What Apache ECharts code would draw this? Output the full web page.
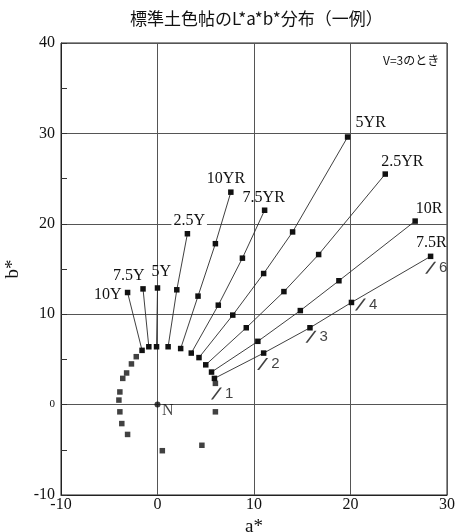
<!DOCTYPE html>
<html>
<head>
<meta charset="utf-8">
<script src="https://cdn.jsdelivr.net/npm/echarts@6/dist/echarts.min.js"></script>
<style>
  html, body { margin: 0; padding: 0; background: #fff; }
  #chart { width: 455px; height: 532px; }
</style>
</head>
<body>
<div id="chart"></div>
<script>
// Munsell hues at value 3; each one is a line of increasing chroma
const hueNames = ['10Y', '7.5Y', '5Y', '2.5Y', '10YR', '7.5YR', '5YR', '2.5YR', '10R', '7.5R'];

// a* for each chroma step of each hue
const hueA = [
  [-1.6, -3.1],
  [-0.9, -1.5],
  [-0.1, 0.0],
  [1.1, 2.0, 3.1],
  [2.4, 4.2, 6.0, 7.6],
  [3.5, 6.3, 8.8, 11.1],
  [4.3, 7.8, 11.0, 14.0, 19.7],
  [5.0, 9.2, 13.1, 16.7, 23.6],
  [5.6, 10.4, 14.8, 18.8, 26.7],
  [5.9, 11.0, 15.8, 20.1, 28.3]
];

// b* for each chroma step of each hue
const hueB = [
  [6.0, 12.4],
  [6.4, 12.8],
  [6.4, 12.9],
  [6.4, 12.7, 18.9],
  [6.2, 12.0, 17.8, 23.5],
  [5.7, 11.0, 16.2, 21.5],
  [5.2, 9.9, 14.5, 19.1, 29.6],
  [4.4, 8.5, 12.5, 16.6, 25.5],
  [3.6, 7.0, 10.4, 13.7, 20.3],
  [2.9, 5.7, 8.5, 11.3, 16.4]
];

// chroma of each step on the 7.5R line
const chromaSteps = [1, 2, 3, 4, 6];

// chroma 1 of the remaining hues
const otherA = [-2.2, -2.7, -3.2, -3.6, -3.9, -4.0, -3.9, -3.7, -3.1, 0.5, 4.6, 6.0, 6.0];
const otherB = [5.3, 4.5, 3.5, 2.9, 1.4, 0.5, -0.8, -2.1, -3.3, -5.1, -4.5, -0.8, 2.35];

// neutral grey
const neutralA = [0];
const neutralB = [0];

// axis ticks
const xTicks = [-10, 0, 10, 20, 30];
const yTicks = [-10, 0, 10, 20, 30, 40];

// ---- styling ----
const SERIF = "'Liberation Serif', 'Times New Roman', serif";
const SANS = "'Liberation Sans', Arial, sans-serif";
const CJK = "'Noto Sans CJK JP', 'Noto Sans CJK SC', sans-serif";
const INK = '#111';
const S = 5.5;

// hue label placement: [dx of anchor, dy of text middle, align, white backing]
const hueLabelPlace = [
  [-6, 2, 'right', false],
  [-30, -13.3, 'left', false],
  [-6, -16, 'left', false],
  [-16, -12.6, 'left', true],
  [-24, -13, 'left', false],
  [-22, -12.4, 'left', false],
  [8, -14.3, 'left', false],
  [-4, -12.3, 'left', false],
  [0.5, -12, 'left', false],
  [-14.5, -13.4, 'left', false]
];

// slash mark offsets below each chroma step of 7.5R
const chromaMarkOffset = [[2, 15], [-1, 11], [1, 9], [9, 2], [0, 11.5]];

const series = [];

hueNames.forEach((name, h) => {
  const place = hueLabelPlace[h];
  const last = hueA[h].length - 1;
  const data = hueA[h].map((a, i) => {
    const item = { value: [a, hueB[h][i]] };
    if (i === last) {
      item.label = {
        show: true,
        formatter: name,
        position: [S / 2 + place[0], S / 2 + place[1]],
        align: place[2],
        verticalAlign: 'middle',
        fontFamily: SERIF,
        fontSize: 16,
        color: INK,
        backgroundColor: place[3] ? '#fff' : 'transparent',
        padding: place[3] ? [0, 2] : 0
      };
    }
    return item;
  });
  series.push({
    type: 'line',
    name: name,
    data: data,
    symbol: 'rect',
    symbolSize: S,
    showAllSymbol: true,
    itemStyle: { color: INK },
    lineStyle: { color: '#2a2a2a', width: 0.9 },
    label: { show: false },
    emphasis: { disabled: true },
    z: 3
  });
});

series.push({
  type: 'scatter',
  name: 'others',
  data: otherA.map((a, i) => [a, otherB[i]]),
  symbol: 'rect',
  symbolSize: S,
  itemStyle: { color: INK },
  z: 3
});

series.push({
  type: 'scatter',
  name: 'N',
  data: neutralA.map((a, i) => [a, neutralB[i]]),
  symbol: 'circle',
  symbolSize: 6,
  itemStyle: { color: INK },
  label: {
    show: true,
    formatter: 'N',
    position: [3 + 4.5, 3 + 6.5],
    align: 'left',
    verticalAlign: 'middle',
    fontFamily: SERIF,
    fontSize: 16,
    color: INK
  },
  z: 4
});

series.push({
  type: 'scatter',
  name: 'chroma',
  data: chromaSteps.map((c, i) => ({
    value: [hueA[9][i], hueB[9][i]],
    symbolOffset: chromaMarkOffset[i],
    label: { formatter: String(c) }
  })),
  symbol: 'path://M0,12L2,12L11,0L9,0Z',
  symbolSize: [11, 12],
  itemStyle: { color: INK },
  label: {
    show: true,
    position: 'right',
    distance: 3,
    fontFamily: SANS,
    fontSize: 15,
    color: INK
  },
  z: 4
});

const chart = echarts.init(document.getElementById('chart'), null, { renderer: 'canvas' });
chart.setOption({
  animation: false,
  backgroundColor: '#fff',
  title: [
    {
      text: '標準土色帖のL*a*b*分布（一例）',
      left: 130,
      top: 10,
      padding: 0,
      textStyle: { fontFamily: CJK, fontSize: 17, fontWeight: 'normal', color: INK }
    },
    {
      text: 'V=3のとき',
      left: 383,
      top: 54,
      padding: 0,
      textStyle: { fontFamily: CJK, fontSize: 12, fontWeight: 'normal', color: INK }
    }
  ],
  grid: {
    left: 61, right: 8, top: 43, bottom: 37,
    show: true,
    borderColor: '#222',
    borderWidth: 1,
    outerBoundsMode: 'none',
    containLabel: false
  },
  xAxis: {
    type: 'value',
    min: xTicks[0],
    max: xTicks[xTicks.length - 1],
    interval: xTicks[1] - xTicks[0],
    name: 'a*',
    nameLocation: 'middle',
    nameGap: 20,
    nameTextStyle: { fontFamily: SERIF, fontSize: 19, color: INK },
    axisLine: { show: true, onZero: false, lineStyle: { color: '#222', width: 1 } },
    axisTick: { show: false },
    axisLabel: { fontFamily: SERIF, fontSize: 16, color: INK, margin: 2, showMinLabel: true, showMaxLabel: true },
    splitLine: { show: true, lineStyle: { color: '#555', width: 1 } }
  },
  yAxis: {
    type: 'value',
    min: yTicks[0],
    max: yTicks[yTicks.length - 1],
    interval: yTicks[1] - yTicks[0],
    name: 'b*',
    nameLocation: 'middle',
    nameRotate: 90,
    nameGap: 26,
    nameTextStyle: { fontFamily: SERIF, fontSize: 19, color: INK },
    axisLine: { show: true, onZero: false, lineStyle: { color: '#222', width: 1 } },
    axisTick: { show: true, inside: true, length: 6, lineStyle: { color: '#333' } },
    minorTick: { show: true, splitNumber: 2, length: 6, lineStyle: { color: '#333', width: 1 } },
    axisLabel: {
      fontFamily: SERIF, fontSize: 16, color: INK, margin: 6,
      showMinLabel: true, showMaxLabel: true,
      formatter: v => (v === 0 ? '{s|0}' : String(v)),
      rich: { s: { fontFamily: SERIF, fontSize: 11, color: INK } }
    },
    splitLine: { show: true, lineStyle: { color: '#555', width: 1 } }
  },
  series: series
});
</script>
</body>
</html>
